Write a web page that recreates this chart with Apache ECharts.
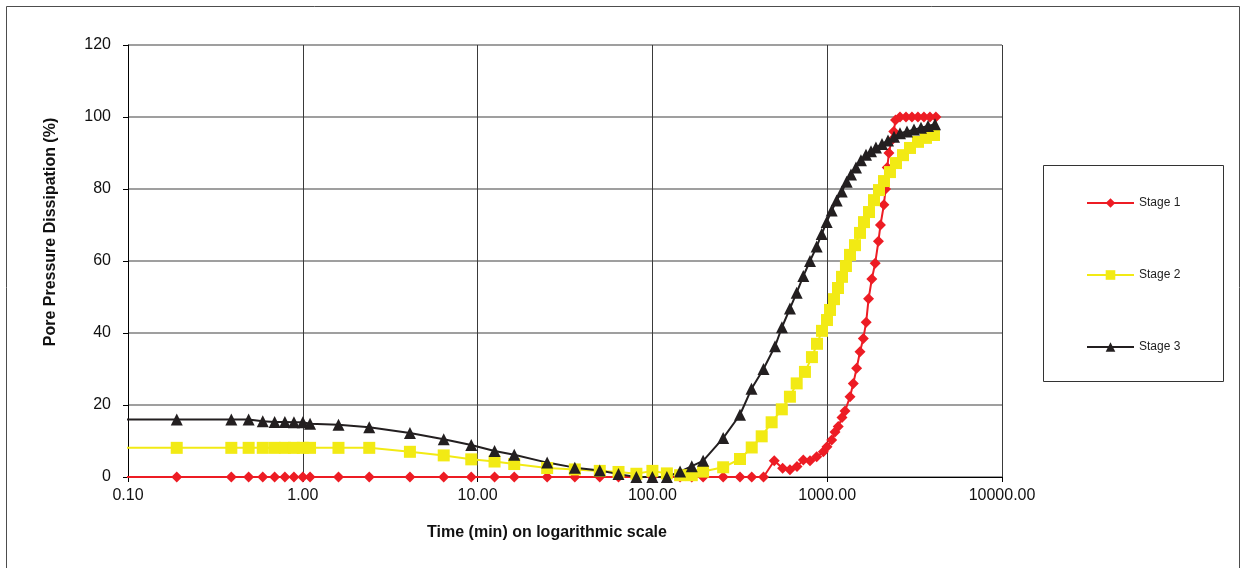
<!DOCTYPE html>
<html>
<head>
<meta charset="utf-8">
<script src="https://cdn.jsdelivr.net/npm/echarts@6/dist/echarts.min.js"></script>
<style>
  html, body { margin: 0; padding: 0; background: #fff; }
  #chart { width: 1245px; height: 568px; }
</style>
</head>
<body>
<div id="chart"></div>
<script>
// ---- data (time in minutes, pore pressure dissipation in %) ----
const seriesNames = ['Stage 1', 'Stage 2', 'Stage 3'];
const xTickValues = [0.1, 1, 10, 100, 1000, 10000];
const yTickValues = [0, 20, 40, 60, 80, 100, 120];

// common early readings (first value lies left of the 0.10 axis start)
const earlyTimes = [0.05, 0.19, 0.39, 0.49, 0.59, 0.69, 0.79, 0.89, 1.0, 1.1, 1.6, 2.4, 4.1, 6.4, 9.2, 12.5, 16.2, 25, 36, 50, 64, 81, 100, 121, 144, 168];

const stage1EarlyValues = [0, 0, 0, 0, 0, 0, 0, 0, 0, 0, 0, 0, 0, 0, 0, 0, 0, 0, 0, 0, 0, 0, 0, 0, 0, 0];
const stage1LateTimes = [195, 254, 317, 370, 432, 498, 556, 612, 672, 730, 797, 871, 950, 997, 1061, 1108, 1157, 1215, 1264, 1350, 1410, 1474, 1540, 1609, 1671, 1725, 1800, 1882, 1964, 2017, 2110, 2157, 2205, 2256, 2330, 2403, 2458, 2609, 2823, 3054, 3305, 3576, 3869, 4186];
const stage1LateValues = [0, 0, 0, 0, 0, 4.5, 2.4, 2.0, 2.9, 4.7, 4.5, 5.6, 7.0, 8.4, 10.3, 12.5, 14, 16.5, 18.3, 22.3, 26, 30.2, 34.8, 38.5, 43, 49.5, 55, 59.4, 65.5, 70, 75.6, 80, 86, 90, 93.5, 96, 99.2, 100, 100, 100, 100, 100, 100, 100];

const stage2EarlyValues = [8.1, 8.1, 8.1, 8.1, 8.1, 8.1, 8.1, 8.1, 8.1, 8.1, 8.1, 8.1, 7.0, 6.0, 4.9, 4.3, 3.6, 2.5, 2.1, 1.7, 1.4, 0.9, 1.7, 1.0, 0.5, 0.5];
const stage2LateTimes = [195, 254, 317, 370, 422, 481, 550, 612, 669, 746, 818, 874, 934, 997, 1038, 1094, 1153, 1215, 1280, 1350, 1442, 1540, 1624, 1734, 1852, 1978, 2113, 2286, 2475, 2714, 2977, 3307, 3673, 4083];
const stage2LateValues = [1.5, 2.7, 5.0, 8.2, 11.3, 15.2, 18.8, 22.3, 26, 29.2, 33.3, 37, 40.6, 43.6, 46.4, 49.4, 52.5, 55.6, 58.6, 61.7, 64.4, 67.8, 70.8, 73.6, 76.9, 79.7, 82.2, 84.7, 87.2, 89.4, 91.4, 93.1, 94.2, 95];

const stage3EarlyValues = [16, 16, 16, 16, 15.5, 15.3, 15.3, 15.2, 15.2, 14.8, 14.5, 13.8, 12.2, 10.5, 8.9, 7.2, 6.2, 4.0, 2.6, 1.8, 0.8, 0, 0, 0, 1.5, 3];
const stage3LateTimes = [195, 254, 317, 369, 432, 503, 551, 612, 669, 730, 797, 871, 930, 993, 1061, 1133, 1211, 1293, 1368, 1461, 1560, 1667, 1781, 1901, 2058, 2227, 2410, 2609, 2861, 3138, 3441, 3773, 4138];
const stage3LateValues = [4.5, 10.8, 17.3, 24.5, 30, 36.3, 41.6, 46.8, 51.2, 55.8, 60, 64, 67.5, 70.8, 74, 76.8, 79.3, 82, 84, 86, 88, 89.5, 90.5, 91.5, 92.5, 93.5, 94.5, 95.5, 96, 96.5, 97, 97.5, 98];

function zip(times, values) {
  const n = Math.min(times.length, values.length);
  const out = [];
  for (let i = 0; i < n; i++) out.push([times[i], values[i]]);
  return out;
}
const stage1 = zip(earlyTimes, stage1EarlyValues).concat(zip(stage1LateTimes, stage1LateValues));
const stage2 = zip(earlyTimes, stage2EarlyValues).concat(zip(stage2LateTimes, stage2LateValues));
const stage3 = zip(earlyTimes, stage3EarlyValues).concat(zip(stage3LateTimes, stage3LateValues));

const FONT = '"Liberation Sans", Arial, Helvetica, sans-serif';
const colors = ['#ED1C24', '#F2EA14', '#231F20'];

const chart = echarts.init(document.getElementById('chart'), null, { renderer: 'canvas' });

function mkSeries(name, data, color, symbol, size) {
  return {
    name: name,
    type: 'line',
    data: data,
    clip: true,
    symbol: symbol,
    symbolSize: size,
    showAllSymbol: true,
    lineStyle: { color: color, width: 2 },
    itemStyle: { color: color, borderWidth: 0 },
    emphasis: { disabled: true },
    animation: false
  };
}

chart.setOption({
  animation: false,
  backgroundColor: '#ffffff',
  textStyle: { fontFamily: FONT },
  grid: { left: 128, right: 243, top: 45, bottom: 91, containLabel: false },
  xAxis: {
    type: 'log',
    logBase: 10,
    min: xTickValues[0],
    max: xTickValues[xTickValues.length - 1],
    axisLine: { show: true, onZero: false, lineStyle: { color: '#000', width: 1 } },
    axisTick: { show: true, length: 5, lineStyle: { color: '#000' } },
    minorTick: { show: false },
    axisLabel: {
      color: '#111', fontSize: 16, fontFamily: FONT, margin: 11,
      formatter: v => Number(v).toFixed(2)
    },
    splitLine: { show: true, lineStyle: { color: '#3a3a3a', width: 1 } }
  },
  yAxis: {
    type: 'value',
    min: yTickValues[0],
    max: yTickValues[yTickValues.length - 1],
    interval: 20,
    axisLine: { show: true, lineStyle: { color: '#000', width: 1 } },
    axisTick: { show: true, length: 5, lineStyle: { color: '#000' } },
    axisLabel: { color: '#111', fontSize: 16, fontFamily: FONT, margin: 17 },
    splitLine: { show: true, lineStyle: { color: '#7f7f7f', width: 1.5 } }
  },
  legend: {
    orient: 'vertical',
    left: 1081,
    top: 192,
    itemWidth: 47,
    itemHeight: 12,
    itemGap: 60,
    data: seriesNames,
    textStyle: { fontSize: 12, color: '#222', fontFamily: FONT, lineHeight: 12 },
    selectedMode: false
  },
  graphic: [
    {
      type: 'rect', z: -1, silent: true,
      shape: { x: 6.5, y: 6.5, width: 1233, height: 562 },
      style: { fill: 'none', stroke: '#4d4d4d', lineWidth: 1 }
    },
    {
      type: 'rect', silent: true,
      shape: { x: 1043.5, y: 165.5, width: 180, height: 216 },
      style: { fill: 'none', stroke: '#333', lineWidth: 1 }
    },
    {
      type: 'text', silent: true,
      x: 547, y: 533,
      style: {
        text: 'Time (min) on logarithmic scale',
        font: 'bold 16px ' + FONT, fill: '#111',
        align: 'center', verticalAlign: 'middle'
      }
    },
    {
      type: 'text', silent: true,
      x: 51, y: 232, rotation: Math.PI / 2,
      style: {
        text: 'Pore Pressure Dissipation (%)',
        font: 'bold 16px ' + FONT, fill: '#111',
        align: 'center', verticalAlign: 'middle'
      }
    }
  ],
  series: [
    mkSeries(seriesNames[0], stage1, colors[0], 'diamond', 11),
    mkSeries(seriesNames[1], stage2, colors[1], 'rect', 12),
    mkSeries(seriesNames[2], stage3, colors[2], 'triangle', 12)
  ]
});
</script>
</body>
</html>
